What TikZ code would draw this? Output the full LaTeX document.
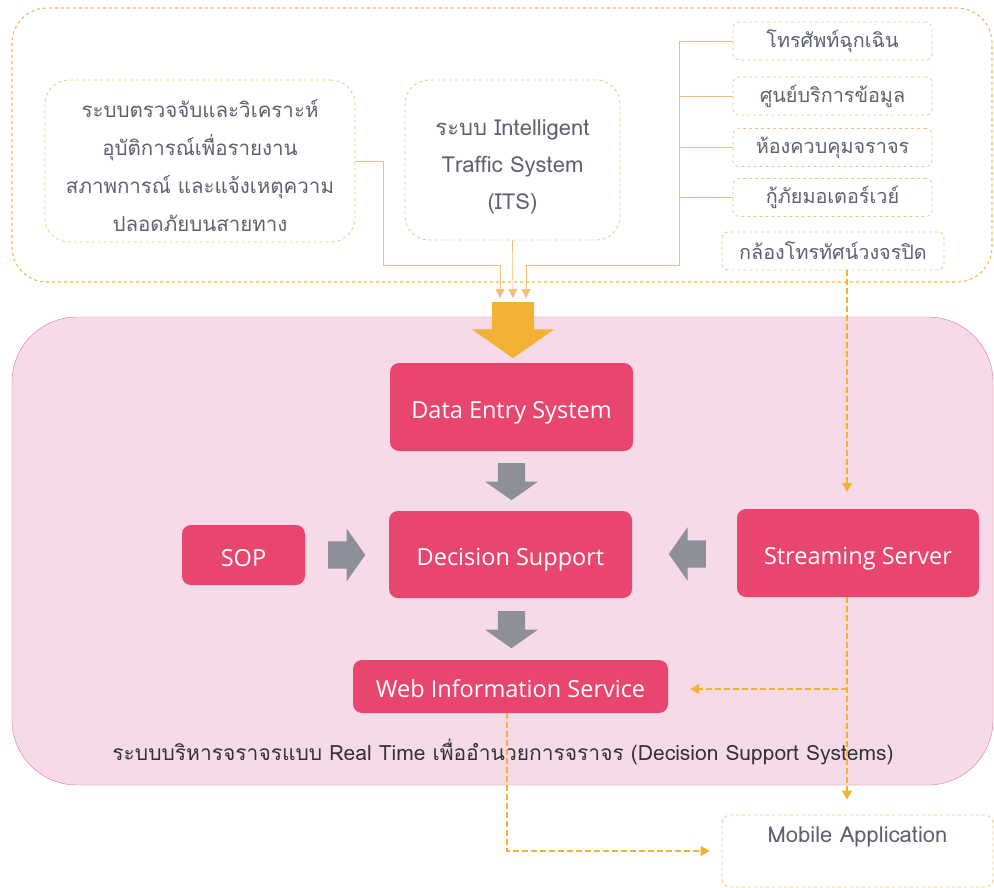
\documentclass[tikz,border=0pt]{standalone}
\usepackage{fontspec}
\newfontfamily\thaifont[Script=Thai]{Loma}
\newfontfamily\boxfont{Open Sans}
\usetikzlibrary{positioning,arrows.meta,shapes}
\definecolor{boxpink}{HTML}{E9466F}
\definecolor{panelpink}{HTML}{F6DAE8}
\definecolor{panelline}{HTML}{E4739A}
\definecolor{arrowgray}{HTML}{8E9099}
\definecolor{arrowyel}{HTML}{F3B233}
\definecolor{dashyel}{HTML}{EFC57A}
\definecolor{outeryel}{HTML}{F0B84A}
\definecolor{feedorange}{HTML}{F0BE78}
\definecolor{textgray}{HTML}{5D6072}
\tikzstyle{block} = [rectangle,rounded corners=9pt,fill=boxpink,text=white,align=center,inner sep=0pt,text height=22.8pt,text depth=0pt,font=\boxfont\fontsize{23.5}{28}\selectfont]
\tikzstyle{source} = [rectangle,rounded corners=24pt,draw=dashyel,dashed,line width=0.8pt,text=textgray,align=center,inner sep=0pt,font=\thaifont\fontsize{20.5}{38}\selectfont]
\tikzstyle{tag} = [rectangle,rounded corners=6pt,draw=dashyel,dashed,line width=0.8pt,text=textgray,align=center,inner sep=0pt,minimum height=38pt,font=\thaifont\fontsize{19.8}{23}\selectfont]
\tikzstyle{feed} = [draw=feedorange,line width=0.7pt,-{Triangle[width=9pt,length=9pt]}]
\tikzstyle{line} = [draw=arrowyel,dash pattern=on 6pt off 3pt,line width=1.5pt,-{Triangle[width=10pt,length=9pt]}]
\tikzstyle{fat} = [single arrow,fill=arrowgray,anchor=tail,minimum height=37pt,minimum width=53pt,single arrow head extend=13pt,single arrow tip angle=110]
\tikzstyle{fatdown} = [fat,inner xsep=13.5pt,inner ysep=0pt,shape border rotate=270]
\tikzstyle{fatside} = [fat,inner xsep=0pt,inner ysep=13.5pt]

\begin{document}
\begin{tikzpicture}[x=1pt,y=-1pt]
\useasboundingbox (0,0) rectangle (994,888);
% frames
\draw[outeryel,dashed,line width=1.1pt,rounded corners=35pt] (12,8) rectangle (992,282);
\draw[panelline,fill=panelpink,rounded corners=65pt] (12,317) rectangle (993,785);

% sources
\node[source,minimum width=310pt,minimum height=162pt] (detect) at (200,161)
  {\rule{0pt}{28pt}ระบบตรวจจับและวิเคราะห์\\อุบัติการณ์เพื่อรายงาน\\สภาพการณ์ และแจ้งเหตุความ\\ปลอดภัยบนสายทาง};
\node[source,minimum width=215pt,minimum height=160pt,font=\thaifont\fontsize{22}{37}\selectfont] (its) at (512.5,160)
  {\rule{0pt}{30pt}ระบบ Intelligent\\Traffic System\\(ITS)};
\node[tag,minimum width=199pt] (hotline) at (832.5,41) {โทรศัพท์ฉุกเฉิน};
\node[tag,minimum width=199pt] (datactr) at (832.5,96) {ศูนย์บริการข้อมูล};
\node[tag,minimum width=199pt] (control) at (832.5,147.5) {ห้องควบคุมจราจร};
\node[tag,minimum width=199pt] (rescue) at (832.5,197.5) {กู้ภัยมอเตอร์เวย์};
\node[tag,minimum width=222pt] (cctv) at (833,251) {กล้องโทรทัศน์วงจรปิด};

% feeds into the panel
\coordinate (in1) at (500,298);
\coordinate (in2) at (513,298);
\coordinate (in3) at (526,298);
\coordinate (bus) at (679,265);
\path[feed] (detect.east) -| (383,265) -| (in1);
\path[feed] (its.south) -- (in2);
\path[feed] (hotline.west) -| (bus) -| (in3);
\draw[feedorange,line width=0.7pt] (datactr.west) -- (datactr.west -| bus)
  (control.west) -- (control.west -| bus)
  (rescue.west) -- (rescue.west -| bus);
\node[fatdown,fill=arrowyel,inner xsep=21pt,minimum height=56pt,minimum width=82pt,single arrow head extend=20pt] (intake) at (513,302) {};

% decision support systems
\node[block,minimum width=243pt,minimum height=88pt] (entry) at (511.5,407) {Data Entry System};
\node[block,minimum width=243pt,minimum height=87pt] (decision) at (510.5,554.5) {Decision Support};
\node[block,minimum width=123pt,minimum height=60pt] (sop) at (243.5,555) {SOP};
\node[block,minimum width=242pt,minimum height=88pt] (stream) at (858,553) {Streaming Server};
\node[block,minimum width=315pt,minimum height=53pt] (web) at (510.5,686.5) {Web Information Service};
\node[fatdown] (a1) at (511.5,463) {};
\node[fatdown] (a2) at (511.5,611) {};
\node[fatside] (a3) at (328,555) {};
\node[fatside,shape border rotate=180] (a4) at (706,554) {};
\node[text=black!80,font=\thaifont\fontsize{21}{25}\selectfont] (caption) at (503,752)
  {ระบบบริหารจราจรแบบ Real Time เพื่ออำนวยการจราจร (Decision Support Systems)};

% outputs
\node[tag,minimum width=271pt,minimum height=72pt,rounded corners=8pt,font=\thaifont\fontsize{22}{32}\selectfont] (mobile) at (857.5,851)
  {Mobile Application\\ \mbox{}};
\coordinate (tap) at (847,689);
\path[line,shorten >=17pt] ([xshift=14pt]cctv.south) -- ([xshift=14pt]cctv.south |- stream.north);
\path[line,shorten >=15pt] ([xshift=-11pt]stream.south) -- ([xshift=-11pt]stream.south |- mobile.north);
\path[line,shorten >=22pt] (tap) -- (web.east |- tap);
\path[line,shorten >=12pt] ([xshift=-3.5pt]web.south) |- (mobile.west);
\end{tikzpicture}
\end{document}
